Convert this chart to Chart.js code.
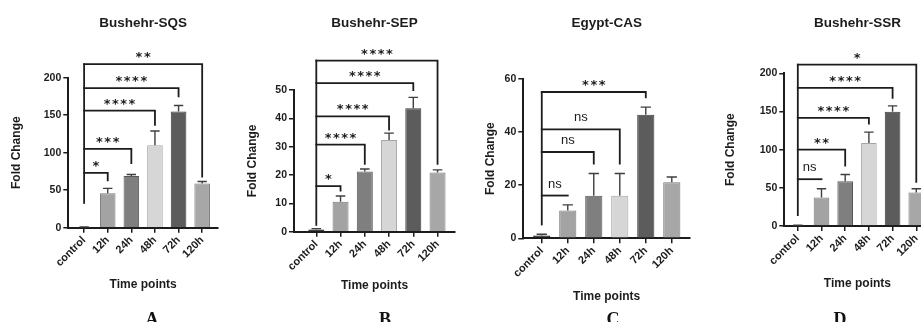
<!DOCTYPE html>
<html>
<head>
<meta charset="utf-8">
<title>Fold change over time points</title>
<script src="https://cdn.jsdelivr.net/npm/chart.js@4/dist/chart.umd.min.js"></script>
<style>
  body { margin: 0; width: 921px; height: 322px; overflow: hidden; background: #fff; position: relative; }
  canvas { position: absolute; top: 0; }
  .letter { position: absolute; top: 309px; line-height: 1; font: bold 18px "Liberation Serif", "Times New Roman", serif; color: #111; transform: translateX(-50%); }
</style>
</head>
<body>
<canvas id="chartA" width="225" height="322" style="left:9px"></canvas>
<canvas id="chartB" width="225" height="322" style="left:245px"></canvas>
<canvas id="chartC" width="215" height="322" style="left:483px"></canvas>
<canvas id="chartD" width="215" height="322" style="left:723px"></canvas>
<div class="letter" style="left:152px">A</div>
<div class="letter" style="left:385px">B</div>
<div class="letter" style="left:613px">C</div>
<div class="letter" style="left:840px">D</div>
<script>
// Categories on the x axis (same in every panel)
let timePoints = [`control`, `12h`, `24h`, `48h`, `72h`, `120h`]

// A - Bushehr-SQS: mean fold change, SD, y ticks
let sqsMeans = [0.8, 46, 69, 110, 155, 59]
let sqsSd = [0.3, 6.5, 2, 19, 8, 2.6]
let sqsTicks = [0, 50, 100, 150, 200]
// comparisons against control: target bar, bracket level, drop end, label
let sqsTarget = [1, 2, 3, 4, 5]
let sqsLevel = [73, 105, 156, 186, 218]
let sqsDrop = [63, 86, 137, 175, 68]
let sqsSignif = [`*`, `***`, `****`, `****`, `**`]
let sqsStemBase = 33

// B - Bushehr-SEP
let sepMeans = [0.8, 10.6, 21.2, 32.4, 43.6, 20.9]
let sepSd = [0.3, 2, 0.9, 2.4, 3.8, 0.9]
let sepTicks = [0, 10, 20, 30, 40, 50]
let sepTarget = [1, 2, 3, 4, 5]
let sepLevel = [16.1, 30.7, 40.7, 52.4, 60.4]
let sepDrop = [14.5, 23.9, 36, 50, 23.9]
let sepSignif = [`*`, `****`, `****`, `****`, `****`]
let sepStemBase = 2.4

// C - Egypt-CAS
let casMeans = [1.1, 10.5, 16, 16, 46.5, 21.1]
let casSd = [0.4, 2.1, 8.4, 8.4, 2.9, 2]
let casTicks = [0, 20, 40, 60]
let casTarget = [1, 2, 3, 4]
let casLevel = [16.1, 32.5, 41, 55.1]
let casDrop = [16.1, 28.1, 28.1, 53.1]
let casSignif = [`ns`, `ns`, `ns`, `***`]
let casStemBase = 5.2

// D - Bushehr-SSR
let ssrMeans = [0.8, 37.4, 58.7, 108.7, 149.6, 43.9]
let ssrSd = [0.3, 11.3, 8.7, 14.3, 7.8, 4.8]
let ssrTicks = [0, 50, 100, 150, 200]
let ssrTarget = [1, 2, 3, 4, 5]
let ssrLevel = [61.3, 100, 141.7, 180.9, 211.3]
let ssrDrop = [61.3, 79.1, 134, 167.8, 57.8]
let ssrSignif = [`ns`, `**`, `****`, `****`, `*`]
let ssrStemBase = 14.3

// Bar fills (control black, then greys like the original)
let barFill = [`#151515`, `#a3a3a3`, `#7f7f7f`, `#d6d6d6`, `#5c5c5c`, `#a7a7a7`]
let barEdge = [`#111111`, `#7a7a7a`, `#575757`, `#a5a5a5`, `#3c3c3c`, `#7a7a7a`]

let ink = `#1c1c1c`
let sans = `"Liberation Sans", Arial, sans-serif`

// Draws the error bars and the significance brackets through the scales
let annotations = {
  id: `annotations`,
  afterDraw(chart) {
    let a = chart.config.options.plugins.annotations
    let ctx = chart.ctx
    let xs = chart.scales.x
    let ys = chart.scales.y
    let meta = chart.getDatasetMeta(0)
    ctx.save()

    // error bars (upper only)
    ctx.strokeStyle = `#3f3f3f`
    ctx.lineWidth = 1.4
    meta.data.forEach(function(bar, i) {
      let yMean = ys.getPixelForValue(a.means[i])
      let yTop = ys.getPixelForValue(a.means[i] + a.sd[i])
      let half = bar.width * 0.3
      ctx.beginPath()
      ctx.moveTo(bar.x, yMean)
      ctx.lineTo(bar.x, yTop)
      ctx.moveTo(bar.x - half, yTop)
      ctx.lineTo(bar.x + half, yTop)
      ctx.stroke()
    })

    // brackets
    ctx.strokeStyle = ink
    ctx.lineWidth = 1.8
    ctx.lineCap = `square`
    let x0 = xs.getPixelForValue(0)
    let topLevel = Math.max(...a.level)
    ctx.beginPath()
    ctx.moveTo(x0, ys.getPixelForValue(topLevel))
    ctx.lineTo(x0, ys.getPixelForValue(a.stemBase))
    ctx.stroke()
    a.target.forEach(function(t, j) {
      let x1 = xs.getPixelForValue(t)
      let y = ys.getPixelForValue(a.level[j])
      ctx.beginPath()
      ctx.moveTo(x0, y)
      ctx.lineTo(x1, y)
      ctx.lineTo(x1, ys.getPixelForValue(a.drop[j]))
      ctx.stroke()

      let mid = (x0 + x1) / 2
      ctx.fillStyle = ink
      ctx.textAlign = `center`
      ctx.textBaseline = `alphabetic`
      if (a.signif[j] == `ns`) {
        ctx.font = `13px ${sans}`
        ctx.letterSpacing = `0px`
        ctx.fillText(a.signif[j], mid, y - 8)
      } else {
        ctx.font = `bold 13px "DejaVu Sans", sans-serif`
        ctx.letterSpacing = `1.5px`
        ctx.fillText(a.signif[j], mid + 0.75, y - 3)
      }
    })
    ctx.restore()
  }
}

function makePanel(id, title, means, sd, ticks, target, level, drop, signif, stemBase, geo) {
  let canvas = document.getElementById(id)
  let left = parseFloat(canvas.style.left)
  let width = canvas.width
  let yMax = ticks[ticks.length - 1]

  return new Chart(canvas, {
    type: `bar`,
    data: {
      datasets: [{
        data: means.map((v, i) => ({ x: i, y: v })),
        backgroundColor: barFill,
        borderColor: barEdge,
        borderWidth: 1,
        categoryPercentage: 1,
        barPercentage: 0.66
      }]
    },
    plugins: [annotations],
    options: {
      responsive: false,
      animation: false,
      events: [],
      layout: { padding: { left: 0, top: 0, bottom: 0, right: left + width - geo.right } },
      plugins: {
        legend: { display: false },
        tooltip: { enabled: false },
        title: {
          display: true,
          text: title,
          fullSize: false,
          color: ink,
          font: { family: sans, size: 13.5, weight: `bold` },
          padding: { top: 14.9, bottom: geo.top - 31.1 }
        },
        annotations: { means, sd, target, level, drop, signif, stemBase }
      },
      scales: {
        x: {
          type: `linear`,
          offset: false,
          min: geo.xMin,
          max: geo.xMax,
          afterBuildTicks: axis => { axis.ticks = timePoints.map((t, i) => ({ value: i })) },
          afterFit: axis => { axis.height = 322 - geo.bottom },
          grid: { display: true, offset: false, drawOnChartArea: false, drawTicks: true, tickLength: 5, color: ink, lineWidth: 1.5 },
          border: { display: true, color: ink, width: 2 },
          ticks: {
            autoSkip: false,
            minRotation: 45,
            maxRotation: 45,
            padding: 1,
            color: ink,
            font: { family: sans, size: 11, weight: `bold` },
            callback: value => timePoints[value]
          },
          title: {
            display: true,
            text: `Time points`,
            color: ink,
            font: { family: sans, size: 12, weight: `bold` },
            padding: { top: 0, bottom: geo.xTitle }
          }
        },
        y: {
          min: 0,
          max: yMax,
          afterBuildTicks: axis => { axis.ticks = ticks.map(v => ({ value: v })) },
          afterFit: axis => { axis.width = geo.yAxis },
          grid: { display: true, drawOnChartArea: false, drawTicks: true, tickLength: 5, color: ink, lineWidth: 1.5 },
          border: { display: true, color: ink, width: 2 },
          ticks: {
            padding: 2,
            color: ink,
            font: { family: sans, size: 10.5, weight: `bold` }
          },
          title: {
            display: true,
            text: `Fold Change`,
            color: ink,
            font: { family: sans, size: 12, weight: `bold` },
            padding: { top: 0, bottom: 0 }
          }
        }
      }
    }
  })
}

// Panel layout: chart-area edges in page pixels and x range around the bars
makePanel(`chartA`, `Bushehr-SQS`, sqsMeans, sqsSd, sqsTicks, sqsTarget, sqsLevel, sqsDrop, sqsSignif, sqsStemBase,
  { yAxis: 59.3, right: 218, top: 77.7, bottom: 227.7, xMin: -0.67, xMax: 5.67, xTitle: 30.5 })
makePanel(`chartB`, `Bushehr-SEP`, sepMeans, sepSd, sepTicks, sepTarget, sepLevel, sepDrop, sepSignif, sepStemBase,
  { yAxis: 49, right: 455, top: 90, bottom: 231.7, xMin: -0.92, xMax: 5.72, xTitle: 29.1 })
makePanel(`chartC`, `Egypt-CAS`, casMeans, casSd, casTicks, casTarget, casLevel, casDrop, casSignif, casStemBase,
  { yAxis: 40.3, right: 690, top: 79, bottom: 238.3, xMin: -0.71, xMax: 5.7, xTitle: 18.1 })
makePanel(`chartD`, `Bushehr-SSR`, ssrMeans, ssrSd, ssrTicks, ssrTarget, ssrLevel, ssrDrop, ssrSignif, ssrStemBase,
  { yAxis: 61.3, right: 930.5, top: 73.3, bottom: 226, xMin: -0.57, xMax: 5.6, xTitle: 31.5 })
</script>
</body>
</html>
